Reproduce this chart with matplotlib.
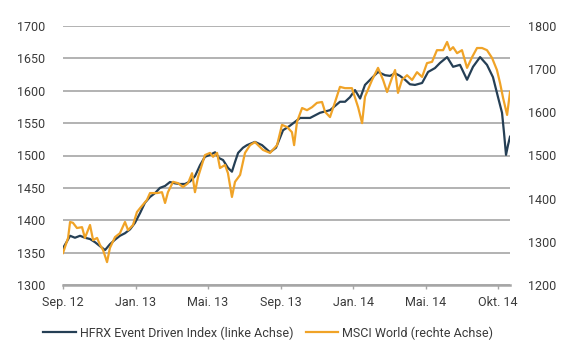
import matplotlib
matplotlib.use("Agg")
import matplotlib.pyplot as plt

plt.rcParams['font.family'] = ['Roboto', 'DejaVu Sans']

# x positions: months since Sep 2012 (tick labels placed every 4 units)
tick_pos = [0, 4, 8, 12, 16, 20, 24]
tick_labels = ["Sep. 12", "Jan. 13", "Mai. 13", "Sep. 13", "Jan. 14", "Mai. 14", "Okt. 14"]

hfrx_x = [0.00, 0.17, 0.39, 0.66, 0.94, 1.21, 1.49, 1.77, 2.04, 2.32, 2.59, 2.87, 3.14, 3.42,
          3.70, 3.97, 4.25, 4.52, 4.80, 5.08, 5.35, 5.63, 5.90, 6.18, 6.46, 6.73, 7.01, 7.28,
          7.56, 7.83, 8.11, 8.39, 8.61, 8.83, 9.10, 9.32, 9.49, 9.66, 9.93, 10.15, 10.59, 10.98,
          11.42, 11.75, 12.14, 12.52, 13.08, 13.63, 14.18, 14.73, 15.28, 15.56, 15.83, 16.11,
          16.39, 16.66, 17.05, 17.38, 17.77, 18.04, 18.32, 18.59, 18.87, 19.14, 19.42, 19.81,
          20.14, 20.52, 20.80, 21.19, 21.52, 21.90, 22.29, 22.62, 23.01, 23.39, 23.72, 24.00,
          24.22, 24.33, 24.44, 24.55, 24.66]
hfrx_v = [1357, 1365, 1376, 1373, 1376, 1373, 1371, 1366, 1360, 1354, 1363, 1370, 1376, 1380,
          1386, 1396, 1411, 1427, 1436, 1442, 1450, 1453, 1459, 1457, 1456, 1456, 1460, 1468,
          1485, 1498, 1501, 1505, 1496, 1493, 1481, 1475, 1490, 1504, 1512, 1516, 1521, 1516,
          1505, 1512, 1539, 1546, 1558, 1558, 1566, 1570, 1583, 1583, 1590, 1601,
          1588, 1609, 1620, 1629, 1624, 1623, 1627, 1623, 1617, 1610, 1609, 1612,
          1629, 1635, 1643, 1652, 1637, 1640, 1617, 1637, 1652, 1640, 1621, 1590,
          1566, 1535, 1501, 1516, 1529]

msci_x = [0.00, 0.11, 0.28, 0.39, 0.55, 0.77, 1.05, 1.21, 1.49, 1.66, 1.88, 2.04, 2.21, 2.43,
          2.59, 2.87, 3.14, 3.42, 3.59, 3.86, 4.08, 4.25, 4.63, 4.80, 5.19, 5.46, 5.63, 5.79,
          6.07, 6.34, 6.62, 6.90, 7.12, 7.28, 7.45, 7.83, 8.11, 8.28, 8.50, 8.66, 8.94, 9.10,
          9.32, 9.49, 9.77, 10.04, 10.32, 10.59, 11.03, 11.42, 11.81, 12.08, 12.36, 12.63,
          12.75, 12.91, 13.19, 13.46, 13.74, 14.01, 14.29, 14.46, 14.73, 15.01, 15.28, 15.56,
          15.94, 16.28, 16.50, 16.66, 17.05, 17.38, 17.66, 17.88, 18.15, 18.32, 18.48, 18.70,
          18.98, 19.26, 19.53, 19.81, 20.08, 20.36, 20.63, 20.97, 21.19, 21.35, 21.52, 21.74,
          22.01, 22.29, 22.57, 22.84, 23.12, 23.39, 23.67, 23.94, 24.11, 24.28, 24.50, 24.66]
msci_v = [1274, 1288, 1309, 1346, 1344, 1332, 1334, 1309, 1339, 1304, 1309, 1293, 1281, 1253,
          1286, 1311, 1320, 1346, 1327, 1339, 1369, 1378, 1397, 1413, 1413, 1415, 1390, 1415,
          1439, 1436, 1427, 1436, 1459, 1415, 1450, 1501, 1506, 1497, 1506, 1471, 1478, 1459,
          1404, 1439, 1455, 1506, 1524, 1531, 1513, 1506, 1524, 1571, 1566, 1554,
          1524, 1578, 1610, 1605, 1612, 1622, 1624, 1601, 1589, 1624, 1659, 1656,
          1656, 1612, 1575, 1636, 1675, 1703, 1675, 1647, 1680, 1698, 1645, 1675,
          1686, 1675, 1693, 1682, 1714, 1717, 1744, 1744, 1763, 1744, 1751, 1737,
          1744, 1703, 1728, 1749, 1749, 1744, 1726, 1698, 1668, 1633, 1594, 1647]

left_ticks = [1300, 1350, 1400, 1450, 1500, 1550, 1600, 1650, 1700]
right_ticks = [1200, 1300, 1400, 1500, 1600, 1700, 1800]

dark = "#253f55"
orange = "#f0a327"
txt = "#3a3a3a"
grid = "#a6a6a6"

fig = plt.figure(figsize=(5.65, 3.58), dpi=100)
ax = fig.add_axes([63/565, 1-285/358, (510-63)/565, (285-26)/358])
ax2 = ax.twinx()

l1, = ax.plot(hfrx_x, hfrx_v, color=dark, lw=1.6, label="HFRX Event Driven Index (linke Achse)")
l2, = ax2.plot(msci_x, msci_v, color=orange, lw=1.6, label="MSCI World (rechte Achse)")

ax.set_xlim(0, 24.66)
ax.set_ylim(1300, 1700)
ax2.set_ylim(1200, 1800)
ax.set_yticks(left_ticks)
ax2.set_yticks(right_ticks)
ax.set_xticks(tick_pos)
ax.set_xticklabels(tick_labels)

for a in (ax, ax2):
    for s in ("top", "left", "right", "bottom"):
        a.spines[s].set_visible(False)
ax.spines["bottom"].set_visible(True)
ax.spines["bottom"].set_color(grid)
ax.spines["bottom"].set_linewidth(1.8)

ax.yaxis.grid(True, color=grid, lw=1.2)
ax.set_axisbelow(True)
ax.tick_params(axis="y", length=0, pad=13, labelsize=9, labelcolor=txt)
ax2.tick_params(axis="y", length=0, pad=13, labelsize=9, labelcolor=txt)
ax.tick_params(axis="x", length=3, width=1, color=grid, pad=5, labelsize=9, labelcolor=txt)

fig.legend(handles=[l1, l2], loc="center", bbox_to_anchor=(268/565, 1-333/358), ncol=2,
           frameon=False, fontsize=9, handlelength=2.6, handletextpad=0.3, columnspacing=1.0,
           labelcolor=txt)

fig.savefig("out.png", dpi=100)
